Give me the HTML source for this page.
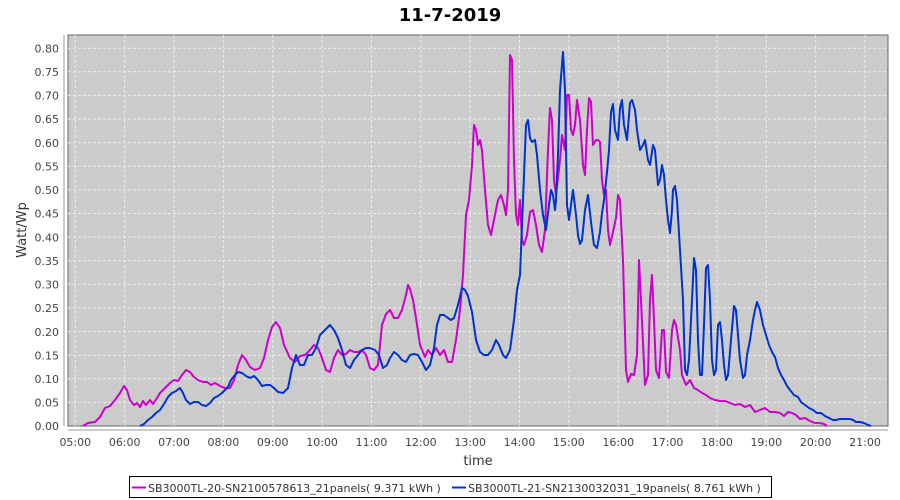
<!DOCTYPE html>
<html><head><meta charset="utf-8"><style>
body{margin:0;background:#fff;}
svg{display:block;font-family:"DejaVu Sans","Liberation Sans",sans-serif;}
</style></head><body>
<svg width="900" height="500" viewBox="0 0 900 500" xmlns="http://www.w3.org/2000/svg">
<rect width="900" height="500" fill="#fff"/>
<text x="450" y="21" text-anchor="middle" font-size="18" font-weight="bold" fill="#000">11-7-2019</text>
<rect x="68" y="35" width="820" height="391" fill="#cbcbcb" stroke="#666" stroke-width="1"/>
<g stroke="#ececec" stroke-width="1" stroke-dasharray="3,2">
<line x1="68" x2="888" y1="48.2" y2="48.2"/><line x1="68" x2="888" y1="71.8" y2="71.8"/><line x1="68" x2="888" y1="95.4" y2="95.4"/><line x1="68" x2="888" y1="119" y2="119"/><line x1="68" x2="888" y1="142.7" y2="142.7"/><line x1="68" x2="888" y1="166.3" y2="166.3"/><line x1="68" x2="888" y1="189.9" y2="189.9"/><line x1="68" x2="888" y1="213.5" y2="213.5"/><line x1="68" x2="888" y1="237.1" y2="237.1"/><line x1="68" x2="888" y1="260.7" y2="260.7"/><line x1="68" x2="888" y1="284.3" y2="284.3"/><line x1="68" x2="888" y1="307.9" y2="307.9"/><line x1="68" x2="888" y1="331.6" y2="331.6"/><line x1="68" x2="888" y1="355.2" y2="355.2"/><line x1="68" x2="888" y1="378.8" y2="378.8"/><line x1="68" x2="888" y1="402.4" y2="402.4"/>
<line y1="35" y2="426" x1="75.3" x2="75.3"/><line y1="35" y2="426" x1="124.7" x2="124.7"/><line y1="35" y2="426" x1="174" x2="174"/><line y1="35" y2="426" x1="223.4" x2="223.4"/><line y1="35" y2="426" x1="272.7" x2="272.7"/><line y1="35" y2="426" x1="322.1" x2="322.1"/><line y1="35" y2="426" x1="371.5" x2="371.5"/><line y1="35" y2="426" x1="420.8" x2="420.8"/><line y1="35" y2="426" x1="470.2" x2="470.2"/><line y1="35" y2="426" x1="519.5" x2="519.5"/><line y1="35" y2="426" x1="568.9" x2="568.9"/><line y1="35" y2="426" x1="618.3" x2="618.3"/><line y1="35" y2="426" x1="667.6" x2="667.6"/><line y1="35" y2="426" x1="717" x2="717"/><line y1="35" y2="426" x1="766.3" x2="766.3"/><line y1="35" y2="426" x1="815.7" x2="815.7"/><line y1="35" y2="426" x1="865" x2="865"/>
</g>
<g stroke="#999" stroke-width="1">
<line x1="64" x2="64" y1="35" y2="426"/><line x1="68" x2="888" y1="430" y2="430"/>
</g>
<g font-size="11" fill="#444" text-anchor="end">
<text x="59" y="52.5">0.80</text><text x="59" y="76">0.75</text><text x="59" y="99.6">0.70</text><text x="59" y="123.2">0.65</text><text x="59" y="146.9">0.60</text><text x="59" y="170.5">0.55</text><text x="59" y="194.1">0.50</text><text x="59" y="217.7">0.45</text><text x="59" y="241.3">0.40</text><text x="59" y="264.9">0.35</text><text x="59" y="288.5">0.30</text><text x="59" y="312.1">0.25</text><text x="59" y="335.8">0.20</text><text x="59" y="359.4">0.15</text><text x="59" y="383">0.10</text><text x="59" y="406.6">0.05</text><text x="59" y="430.2">0.00</text>
</g>
<g font-size="11" fill="#444" text-anchor="middle">
<text x="75.3" y="446">05:00</text><text x="124.7" y="446">06:00</text><text x="174" y="446">07:00</text><text x="223.4" y="446">08:00</text><text x="272.7" y="446">09:00</text><text x="322.1" y="446">10:00</text><text x="371.5" y="446">11:00</text><text x="420.8" y="446">12:00</text><text x="470.2" y="446">13:00</text><text x="519.5" y="446">14:00</text><text x="568.9" y="446">15:00</text><text x="618.3" y="446">16:00</text><text x="667.6" y="446">17:00</text><text x="717" y="446">18:00</text><text x="766.3" y="446">19:00</text><text x="815.7" y="446">20:00</text><text x="865" y="446">21:00</text>
</g>
<text x="478" y="465" text-anchor="middle" font-size="13" fill="#333">time</text>
<text transform="translate(26,230) rotate(-90)" text-anchor="middle" font-size="13" fill="#333">Watt/Wp</text>
<polyline fill="none" stroke="#cc00cc" stroke-width="2" stroke-linejoin="round" points="83,426 88,423 95,422 100,417 105,408 110,406 115,400 120,393 124,386 127,390 130,400 134,405 137,403 140,407 143,401 146,405 150,400 153,404 157,398 160,393 165,388 170,383 174,380 178,381 182,375 186,370 190,372 194,377 198,380 203,382 207,382 211,385 215,383 220,386 225,388 230,388 234,380 238,365 242,355 246,360 250,367 255,370 260,368 264,358 268,340 272,327 276,322 280,328 284,345 290,358 295,362 300,356 305,355 310,350 314,345 318,348 322,358 326,370 330,372 334,358 338,350 342,355 346,354 350,350 354,352 358,352 362,350 366,355 370,368 374,370 378,365 382,325 386,314 390,310 394,318 398,318 402,310 406,295 408,285 410,289 413,300 416,318 420,345 425,357 428,350 432,355 436,348 440,355 444,350 448,362 452,362 456,340 460,310 463,275 466,215 469,200 472,165 474,125 476,130 478,145 480,140 482,150 485,190 488,225 491,235 494,220 498,200 501,195 504,205 506,215 508,190 510,55 512,60 514,160 516,215 518,225 520,200 522,240 524,245 527,235 530,212 533,210 536,225 539,245 542,252 545,230 548,150 550,108 552,120 554,180 556,195 560,160 562,135 565,150 567,95 569,95 571,130 573,135 575,125 577,100 580,120 583,165 585,175 587,130 589,98 591,102 593,145 596,140 598,140 600,142 602,180 604,195 606,190 608,230 610,245 613,232 616,218 618,195 620,200 623,260 626,370 628,382 631,374 634,375 637,355 639,260 641,300 645,385 648,375 650,300 652,275 654,320 656,370 659,378 662,330 664,330 666,372 669,378 672,330 674,320 676,325 680,350 682,375 686,385 690,380 694,388 698,390 702,393 706,395 710,398 715,400 720,401 725,401 730,403 735,405 740,404 745,407 750,405 755,412 760,410 765,408 770,412 775,412 780,413 784,416 788,412 792,413 796,415 800,419 805,418 810,421 815,423 820,423 824,424 827,426"/>
<polyline fill="none" stroke="#0033cc" stroke-width="2" stroke-linejoin="round" points="140,426 144,424 148,420 152,417 156,413 160,410 164,404 168,397 172,393 176,391 180,388 183,393 186,400 190,404 194,402 198,402 202,405 206,406 210,403 214,398 218,396 222,393 225,390 228,387 231,380 235,375 238,372 242,373 246,376 250,378 254,376 258,380 262,386 266,385 270,385 274,388 278,392 283,393 288,388 292,368 296,355 300,365 304,365 308,355 312,355 316,348 320,335 325,330 330,325 334,330 338,338 342,350 346,365 350,368 354,360 358,355 362,350 366,348 370,348 375,350 379,355 383,368 387,365 390,358 394,352 398,355 402,360 406,362 410,355 414,354 418,355 422,362 426,370 430,365 434,348 437,325 440,315 444,315 448,318 451,320 454,318 458,305 462,288 465,290 468,296 472,312 476,340 480,352 484,355 488,355 492,350 496,340 499,345 503,355 506,358 510,350 514,320 517,290 520,275 523,200 526,125 528,120 530,138 532,142 535,140 537,155 540,190 543,215 546,230 549,205 551,190 553,195 555,210 556,200 558,155 560,90 563,52 565,90 567,205 569,220 571,205 573,190 576,215 578,235 580,244 582,240 585,210 588,195 591,222 594,245 597,248 600,232 602,213 604,200 607,172 609,150 611,112 613,104 615,130 618,140 620,108 622,100 624,125 627,140 630,103 632,100 635,110 637,130 640,150 643,145 645,140 648,160 650,165 653,145 655,150 658,185 660,180 662,165 664,175 666,200 668,220 670,233 672,210 673,190 675,186 677,200 680,250 683,300 685,370 687,375 689,360 692,300 694,258 696,270 698,340 700,375 702,375 704,325 706,268 708,265 710,300 712,360 714,375 716,370 718,325 720,322 722,340 724,365 726,380 728,375 731,340 734,306 736,310 738,335 740,360 743,378 745,375 747,355 750,340 753,320 755,310 757,302 760,310 763,325 766,335 769,345 772,352 775,357 778,368 781,375 784,380 787,386 790,390 794,395 798,397 801,402 805,405 809,408 813,410 817,413 821,413 825,416 829,418 833,420 836,420 840,419 845,419 850,419 853,420 856,422 860,422 864,423 868,425 871,426"/>
<rect x="129.5" y="476.5" width="642" height="21" fill="#fff" stroke="#000" stroke-width="1"/>
<line x1="132" x2="146" y1="487.5" y2="487.5" stroke="#cc00cc" stroke-width="2"/>
<text x="148" y="492" font-size="11" fill="#333">SB3000TL-20-SN2100578613_21panels( 9.371 kWh )</text>
<line x1="452" x2="466" y1="487.5" y2="487.5" stroke="#0033cc" stroke-width="2"/>
<text x="468" y="492" font-size="11" fill="#333">SB3000TL-21-SN2130032031_19panels( 8.761 kWh )</text>
</svg>
</body></html>
